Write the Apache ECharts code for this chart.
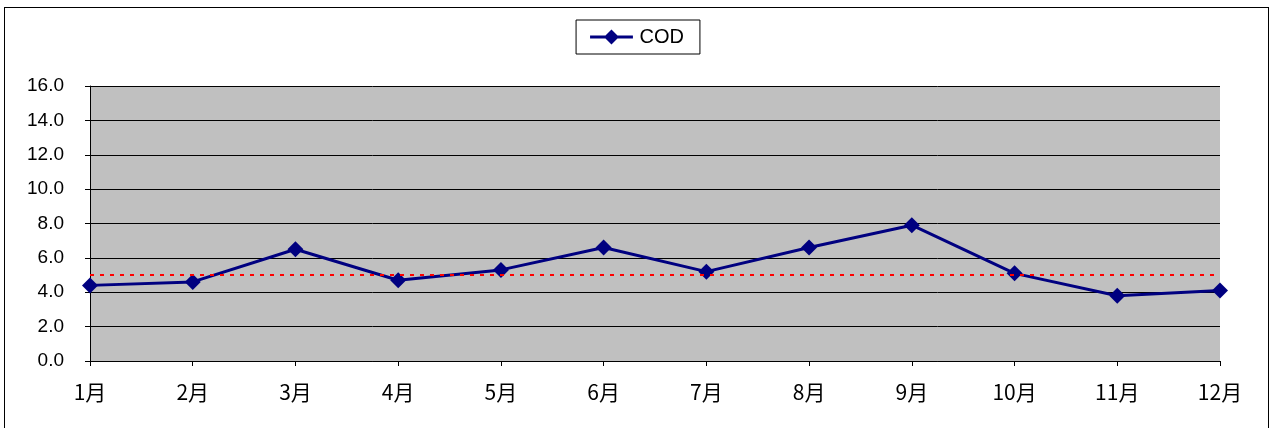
<!DOCTYPE html>
<html>
<head>
<meta charset="utf-8">
<script src="https://cdn.jsdelivr.net/npm/echarts@6/dist/echarts.min.js"></script>
<style>
  html, body { margin: 0; padding: 0; background: #fff; }
  #frame {
    position: absolute; left: 4px; top: 7px; width: 1265px; height: 430px;
    border: 1px solid #000; box-sizing: border-box;
  }
  #chart { position: absolute; left: 0; top: 0; width: 1274px; height: 428px; }
</style>
</head>
<body>
<div id="frame"></div>
<div id="chart"></div>
<script>
// 月份
const months = ['1月', '2月', '3月', '4月', '5月', '6月', '7月', '8月', '9月', '10月', '11月', '12月']
// COD 数值
const codValues = [4.4, 4.6, 6.5, 4.7, 5.3, 6.6, 5.2, 6.6, 7.9, 5.1, 3.8, 4.1]
// 标准限值
const limitValue = 5.0

// 图例图标：横线 + 菱形
const legendIcon = 'path://M0,5.5 L40,5.5 L40,8.5 L0,8.5 Z M20,0 L27,7 L20,14 L13,7 Z'

const chart = echarts.init(document.getElementById('chart'))
chart.setOption({
  animation: false,
  legend: {
    data: [{ name: 'COD', icon: legendIcon }],
    top: 20,
    left: 'center',
    itemWidth: 50,
    itemHeight: 15,
    itemGap: 4,
    padding: [7, 16, 7, 14],
    borderColor: '#000',
    borderWidth: 1,
    textStyle: { fontFamily: 'Liberation Sans', fontSize: 20, color: '#000', padding: [0, 0, 0, -2] },
  },
  grid: { left: 90, right: 54, top: 86, bottom: 67 },
  xAxis: {
    type: 'category',
    data: months,
    boundaryGap: false,
    axisLine: { lineStyle: { color: '#000', width: 1 } },
    axisTick: { show: true, length: 5, lineStyle: { color: '#000' } },
    axisLabel: {
      margin: 21,
      fontFamily: 'Noto Sans CJK JP',
      fontSize: 21,
      color: '#000',
    },
    splitLine: { show: false },
  },
  yAxis: {
    type: 'value',
    min: 0,
    max: 16,
    interval: 2,
    axisLine: { show: true, lineStyle: { color: '#000', width: 1 } },
    axisTick: { show: true, length: 5, lineStyle: { color: '#000' } },
    axisLabel: {
      margin: 26,
      formatter: v => v.toFixed(1),
      fontFamily: 'Liberation Sans',
      fontSize: 19,
      color: '#000',
    },
    splitLine: { show: true, lineStyle: { color: '#000', width: 1 } },
    splitArea: { show: true, areaStyle: { color: ['#c0c0c0', '#c0c0c0'] } },
  },
  series: [
    {
      name: 'COD',
      type: 'line',
      data: codValues,
      symbol: 'diamond',
      symbolSize: 16,
      lineStyle: { color: '#000080', width: 3 },
      itemStyle: { color: '#000080' },
      markLine: {
        silent: true,
        symbol: 'none',
        label: { show: false },
        lineStyle: { color: '#ff0000', type: [4, 6], width: 2 },
        data: [{ yAxis: limitValue }],
      },
    },
  ],
})
</script>
</body>
</html>
